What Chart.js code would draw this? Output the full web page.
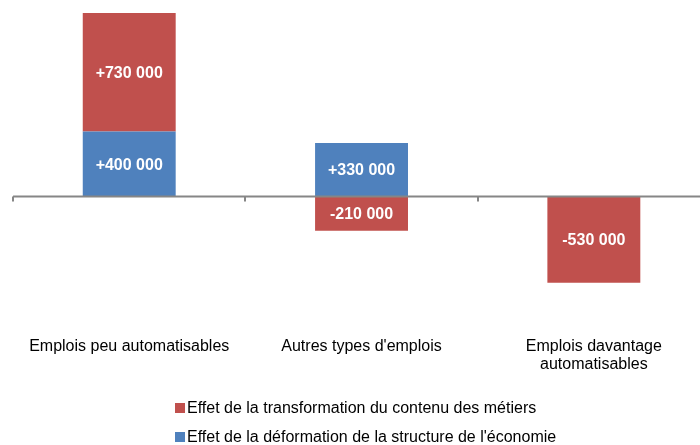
<!DOCTYPE html>
<html lang="fr">
<head>
<meta charset="utf-8">
<script src="https://cdn.jsdelivr.net/npm/chart.js@4.4.0/dist/chart.umd.min.js"></script>
<style>
  html, body { margin: 0; padding: 0; background: #fff; overflow: hidden; }
  #cadre { position: relative; width: 712px; height: 445px; }
  #legende {
    position: absolute; left: 175px; top: 393px;
    font: 16px "Liberation Sans", Arial, sans-serif; color: #000;
  }
  #legende .item { height: 29px; display: flex; align-items: center; white-space: nowrap; }
  #legende .carre { width: 10px; height: 10px; margin-right: 2px; }
</style>
</head>
<body>
<div id="cadre">
  <canvas id="graphique"></canvas>
  <div id="legende"></div>
</div>
<script>
// =========================
// DONNÉES
// =========================
const categories = [
  "Emplois peu automatisables",
  "Autres types d'emplois",
  ["Emplois davantage", "automatisables"]
];
const effetStructure = [400000, 330000, null];
const effetTransformation = [730000, -210000, -530000];
const yMin = -650000;
const yMax = 1130000;

const ROUGE = "#C0504D";
const BLEU = "#4F81BD";
const POLICE = "'Liberation Sans', Arial, sans-serif";

function formatValeur(v) {
  const s = String(Math.abs(v)).replace(/\B(?=(\d{3})+(?!\d))/g, " ");
  return (v > 0 ? "+" : "-") + s;
}

// étiquettes blanches au centre des segments
const etiquettes = {
  id: "etiquettes",
  afterDatasetsDraw(chart) {
    const ctx = chart.ctx;
    ctx.save();
    ctx.fillStyle = "#fff";
    ctx.font = "bold 16px " + POLICE;
    ctx.textAlign = "center";
    ctx.textBaseline = "middle";
    chart.data.datasets.forEach((ds, i) => {
      chart.getDatasetMeta(i).data.forEach((bar, j) => {
        const v = ds.data[j];
        if (v === null || v === undefined) return;
        ctx.fillText(formatValeur(v), bar.x, (bar.y + bar.base) / 2 + 1);
      });
    });
    ctx.restore();
  }
};

// axe horizontal au niveau de zéro avec graduations
const axeZero = {
  id: "axeZero",
  afterDatasetsDraw(chart) {
    const { ctx, chartArea, scales } = chart;
    const y0 = scales.y.getPixelForValue(0);
    const x = scales.x;
    const demi = (x.getPixelForValue(1) - x.getPixelForValue(0)) / 2;
    ctx.save();
    ctx.strokeStyle = "#868686";
    ctx.lineWidth = 2;
    ctx.beginPath();
    ctx.moveTo(chartArea.left, y0);
    ctx.lineTo(chartArea.right, y0);
    for (let i = 0; i <= categories.length; i++) {
      const px = Math.round(x.getPixelForValue(0) - demi + i * demi * 2);
      ctx.moveTo(px, y0);
      ctx.lineTo(px, y0 + 5);
    }
    ctx.stroke();
    ctx.restore();
  }
};

const graphique = new Chart(document.getElementById("graphique"), {
  type: "bar",
  data: {
    labels: categories,
    datasets: [
      {
        label: "Effet de la déformation de la structure de l'économie",
        data: effetStructure,
        backgroundColor: BLEU
      },
      {
        label: "Effet de la transformation du contenu des métiers",
        data: effetTransformation,
        backgroundColor: ROUGE
      }
    ]
  },
  options: {
    responsive: true,
    maintainAspectRatio: false,
    animation: false,
    barPercentage: 0.4,
    categoryPercentage: 1,
    layout: { padding: { left: 13, right: 2, top: 13, bottom: 44 } },
    plugins: {
      legend: { display: false },
      tooltip: { enabled: false }
    },
    scales: {
      x: {
        stacked: true,
        grid: { display: false },
        border: { display: false },
        ticks: {
          color: "#000",
          padding: 27,
          maxRotation: 0,
          font: { family: POLICE, size: 16, lineHeight: 1.15 }
        }
      },
      y: {
        stacked: true,
        display: false,
        min: yMin,
        max: yMax
      }
    }
  },
  plugins: [etiquettes, axeZero]
});

// légende HTML (ordre inversé comme dans l'original)
const legende = document.getElementById("legende");
graphique.data.datasets.slice().reverse().forEach((ds) => {
  const item = document.createElement("div");
  item.className = "item";
  const carre = document.createElement("span");
  carre.className = "carre";
  carre.style.background = ds.backgroundColor;
  item.appendChild(carre);
  item.appendChild(document.createTextNode(ds.label));
  legende.appendChild(item);
});
</script>
</body>
</html>
